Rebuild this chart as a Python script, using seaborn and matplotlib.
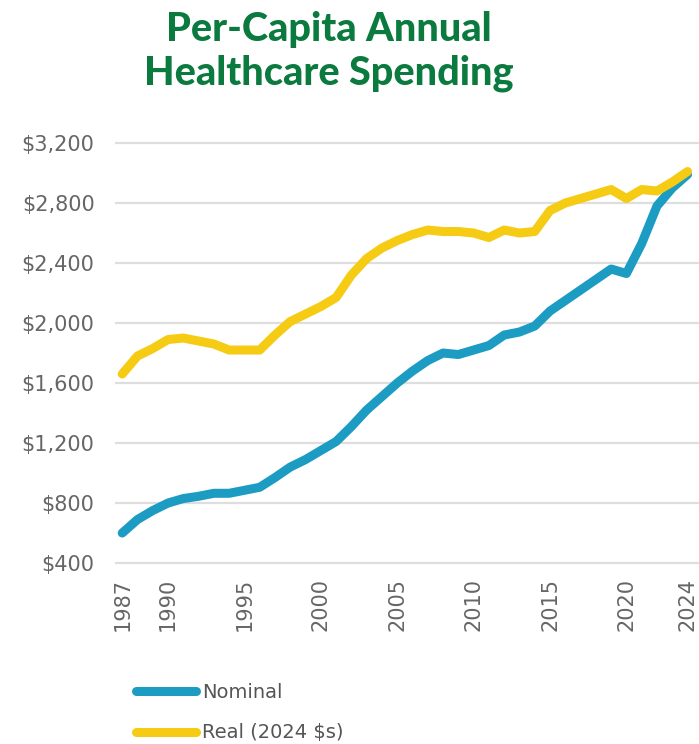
import pandas as pd
import numpy as np
import matplotlib
matplotlib.use("Agg")
import matplotlib.pyplot as plt
import seaborn as sns

# Per-capita healthcare spending
years = list(range(1987, 2025))
nominal = [600, 690, 750, 800, 830, 845, 865, 865, 885, 905,
           970, 1040, 1090, 1150, 1210, 1310, 1420, 1510, 1600, 1680,
           1750, 1800, 1790, 1820, 1850, 1920, 1940, 1980, 2080, 2150,
           2220, 2290, 2360, 2330, 2530, 2780, 2900, 2990]
real = [1660, 1780, 1830, 1890, 1900, 1880, 1860, 1820, 1820, 1820,
        1920, 2010, 2060, 2110, 2170, 2320, 2430, 2500, 2550, 2590,
        2620, 2610, 2610, 2600, 2570, 2620, 2600, 2610, 2750, 2800,
        2830, 2860, 2890, 2830, 2890, 2880, 2940, 3010]
series_names = ["Nominal", "Real (2024 $s)"]
tick_years = [1987, 1990, 1995, 2000, 2005, 2010, 2015, 2020, 2024]
y_ticks = [400, 800, 1200, 1600, 2000, 2400, 2800, 3200]

df = pd.DataFrame({
    "year": years * 2,
    "spend": nominal + real,
    "series": [series_names[0]] * len(years) + [series_names[1]] * len(years),
})

sns.set_style("white")
plt.rcParams["font.family"] = ["DejaVu Sans"]

fig = plt.figure(figsize=(6.99, 7.44), dpi=100)
ax = fig.add_axes([0.165, 0.2402, 0.835, 0.5706])

palette = {"Nominal": "#1c9cc2", "Real (2024 $s)": "#f6cb14"}
sns.lineplot(data=df, x="year", y="spend", hue="series", palette=palette,
             linewidth=6.5, ax=ax, legend=True, solid_capstyle="round")

ax.set_xlim(1986.55, 2024.75)
ax.set_ylim(385, 3215)
ax.set_xticks(tick_years)
ax.set_xticklabels([str(y) for y in tick_years], rotation=90, va="top")
ax.set_yticks(y_ticks)
ax.set_yticklabels([f"${v:,}" for v in y_ticks])
ax.tick_params(axis="both", length=0, labelsize=15, labelcolor="#666666")
ax.tick_params(axis="y", pad=15)
ax.tick_params(axis="x", pad=9)
ax.yaxis.grid(True, color="#dedede", linewidth=1.6)
ax.set_axisbelow(True)
for s in ax.spines.values():
    s.set_visible(False)
ax.set_xlabel("")
ax.set_ylabel("")

handles, labels = ax.get_legend_handles_labels()
ax.legend(handles, labels, loc="upper left", bbox_to_anchor=(0.18, 0.095),
          bbox_transform=fig.transFigure, frameon=False, fontsize=14,
          handlelength=3.1, handletextpad=0.3, labelspacing=1.1,
          borderpad=0, labelcolor="#555555")

fig.text(0.47, 0.985, "Per-Capita Annual\nHealthcare Spending",
         ha="center", va="top", fontsize=28.5, fontweight="black",
         color="#0b7a3f", linespacing=1.2, family=["Lato", "DejaVu Sans"])

fig.savefig("out.png", dpi=100)
